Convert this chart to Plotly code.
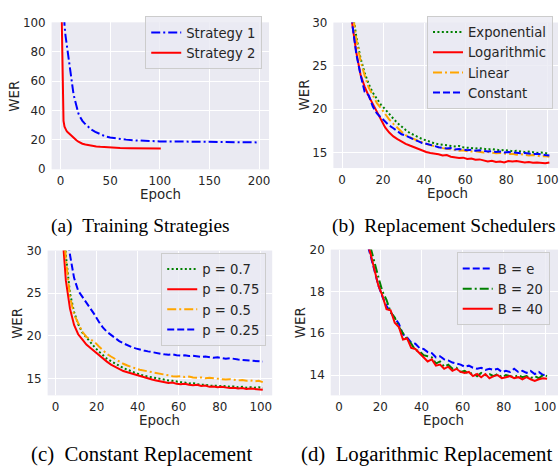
import plotly.graph_objects as go

W, H = 559, 470

# ---------------- (a) Training Strategies ----------------
a_ep_s1 = [1, 2, 3, 4, 5, 6, 7, 8, 9, 10, 11, 12, 13, 14, 15, 16, 17, 18, 19, 20,
           22, 24, 26, 28, 31, 35, 40, 45, 50, 55, 60, 66, 75, 86, 100, 120, 140, 160, 180, 200]
a_wer_s1 = [150, 128, 108, 98, 91, 86, 80, 74.5, 69, 63.5, 58.5, 55, 51.5, 48.5, 45.5, 42.5, 39.8, 38, 36.5, 35.2,
            33, 31.4, 30, 28.8, 27, 25.5, 23.8, 22.4, 21.6, 21, 20.6, 20.2, 19.7, 19.2, 19.0, 18.9, 18.8, 18.7, 18.5, 18.3]
a_ep_s2 = [1, 2, 3, 4, 5, 6, 7, 8, 9, 10, 12, 14, 16, 18, 20, 22, 25, 28, 32, 36, 40, 45, 50, 55, 60, 70, 80, 90, 101]
a_wer_s2 = [110, 50, 33, 29, 27.2, 26.2, 25.4, 24.7, 24.1, 23.5, 22.3, 21, 19.8, 18.8, 18.0, 17.4, 16.9, 16.4, 15.9,
            15.55, 15.3, 15.0, 14.75, 14.6, 14.5, 14.4, 14.3, 14.2, 14.1]

# epochs for the 100-epoch runs (b), (c), (d)
ep = list(range(1, 102, 2))

# ---------------- (b) Replacement Schedulers ----------------
b_exponential = [52, 40, 31.5, 28.3, 25.9, 24.2, 22.9, 21.9, 21.2, 20.5, 20.0, 19.4, 18.9, 18.4, 17.95, 17.6, 17.25,
                 17.0, 16.75, 16.55, 16.4, 16.2, 16.05, 15.95, 15.9, 15.8, 15.75, 15.7, 15.75, 15.6, 15.55, 15.5, 15.45,
                 15.5, 15.4, 15.35, 15.4, 15.3, 15.25, 15.3, 15.2, 15.15, 15.2, 15.1, 15.05, 15.1, 15.0, 14.95, 15.0,
                 14.9, 14.85]
b_logarithmic = [48, 36, 29.8, 26.5, 24.0, 22.6, 21.5, 20.6, 19.7, 18.7, 17.9, 17.3, 16.85, 16.55, 16.25, 16.0, 15.8,
                 15.6, 15.45, 15.25, 15.05, 14.95, 14.9, 14.8, 14.65, 14.7, 14.5, 14.45, 14.35, 14.4, 14.25, 14.3, 14.15,
                 14.2, 14.05, 13.95, 14.05, 13.9, 13.95, 13.85, 14.0, 13.95, 14.0, 13.9, 13.85, 13.9, 13.8, 13.85, 13.8,
                 13.75, 13.85]
b_linear = [52, 40, 31.5, 28.0, 25.6, 23.9, 22.5, 21.6, 20.7, 20.1, 19.4, 18.8, 18.3, 17.8, 17.4, 17.0, 16.75, 16.55,
            16.35, 16.15, 16.0, 15.85, 15.7, 15.6, 15.5, 15.45, 15.35, 15.3, 15.2, 15.25, 15.15, 15.1, 15.15, 15.05,
            15.0, 15.05, 14.95, 14.9, 14.95, 14.85, 14.8, 14.85, 14.75, 14.8, 14.7, 14.65, 14.7, 14.6, 14.55, 14.6, 14.5]
b_constant = [48, 36, 29.8, 26.3, 24.0, 22.0, 21.6, 20.3, 19.5, 19.0, 18.5, 18.1, 17.8, 17.4, 17.1, 16.95, 16.7, 16.5,
              16.3, 16.1, 16.0, 15.9, 15.75, 15.6, 15.55, 15.45, 15.5, 15.35, 15.4, 15.3, 15.25, 15.3, 15.2, 15.25,
              15.15, 15.1, 15.15, 15.05, 15.1, 15.0, 15.05, 15.0, 14.95, 14.9, 14.95, 14.85, 14.8, 14.85, 14.75, 14.7,
              14.65]

# ---------------- (c) Constant Replacement ----------------
c_p070 = [48, 36, 29.5, 25.0, 22.8, 21.4, 20.4, 19.8, 19.2, 18.7, 18.2, 17.75, 17.35, 17.05, 16.75, 16.5, 16.25, 16.05,
          15.85, 15.7, 15.5, 15.35, 15.25, 15.15, 15.05, 14.95, 14.9, 14.8, 14.75, 14.65, 14.6, 14.55, 14.45, 14.5,
          14.35, 14.3, 14.3, 14.2, 14.15, 14.2, 14.1, 14.15, 14.05, 14.1, 14.0, 14.05, 13.95, 14.0, 13.95, 14.0, 13.9]
c_p075 = [45, 33, 26.5, 23.2, 21.3, 20.2, 19.6, 19.0, 18.6, 18.2, 17.7, 17.3, 17.0, 16.65, 16.4, 16.1, 15.9, 15.75,
          15.6, 15.45, 15.3, 15.15, 15.0, 14.9, 14.8, 14.7, 14.6, 14.5, 14.55, 14.4, 14.35, 14.4, 14.3, 14.25, 14.3,
          14.15, 14.2, 14.05, 14.1, 14.0, 14.05, 13.95, 13.9, 13.95, 13.85, 13.9, 13.8, 13.85, 13.8, 13.75, 13.7]
c_p050 = [48, 36, 29.0, 24.6, 22.5, 21.4, 20.5, 19.9, 19.6, 19.3, 18.8, 18.3, 17.9, 17.6, 17.3, 17.0, 16.75, 16.55,
          16.35, 16.2, 16.05, 15.95, 15.85, 15.75, 15.65, 15.55, 15.5, 15.4, 15.3, 15.25, 15.3, 15.2, 15.25, 15.15,
          15.1, 15.15, 15.05, 15.1, 15.05, 15.0, 14.95, 14.9, 14.95, 14.85, 14.8, 14.85, 14.75, 14.8, 14.7, 14.75, 14.6]
c_p025 = [60, 42, 33, 29.5, 26.8, 25.3, 24.6, 24.0, 23.2, 22.5, 21.7, 21.0, 20.5, 20.1, 19.7, 19.4, 19.15, 18.9,
          18.7, 18.55, 18.4, 18.3, 18.2, 18.1, 18.0, 17.95, 17.85, 17.8, 17.85, 17.75, 17.7, 17.75, 17.65, 17.7, 17.6,
          17.55, 17.6, 17.5, 17.45, 17.5, 17.4, 17.35, 17.4, 17.3, 17.25, 17.2, 17.15, 17.1, 17.05, 17.0, 17.0]

# ---------------- (d) Logarithmic Replacement ----------------
d_be = [32, 28.5, 26, 24.2, 22.7, 21.5, 20.5, 19.8, 19.0, 18.3, 17.75, 17.3, 17.0, 16.7, 16.45, 15.95, 15.8, 15.55,
        15.5, 15.3, 15.25, 15.1, 15.05, 14.85, 14.9, 14.75, 14.7, 14.6, 14.55, 14.5, 14.4, 14.45, 14.35, 14.3, 14.35,
        14.25, 14.3, 14.25, 14.3, 14.15, 14.2, 14.15, 14.3, 14.15, 14.2, 14.1, 14.2, 14.05, 14.15, 14.0, 14.05]
d_b20 = [33, 29.5, 27, 25, 23.3, 22.0, 21.0, 20.2, 19.4, 18.7, 18.0, 17.6, 17.0, 16.75, 16.3, 16.0, 15.7, 15.5, 15.2,
         15.15, 14.95, 14.9, 14.85, 14.55, 14.65, 14.4, 14.5, 14.3, 14.35, 14.15, 14.2, 14.05, 14.1, 13.95, 14.1, 14.0,
         14.05, 13.95, 14.05, 13.9, 14.0, 13.95, 13.9, 14.0, 13.9, 13.95, 13.85, 13.95, 13.85, 14.0, 13.95]
d_b40 = [32, 28.5, 26, 24.2, 22.7, 21.5, 20.5, 19.9, 19.1, 18.3, 17.8, 17.15, 17.1, 16.5, 16.3, 15.7, 15.75, 15.3,
         15.25, 15.05, 14.9, 14.65, 14.75, 14.45, 14.5, 14.3, 14.4, 14.2, 14.3, 14.15, 14.1, 14.15, 13.95, 14.05, 13.9,
         14.05, 13.85, 13.95, 14.0, 13.85, 13.9, 13.95, 13.85, 13.9, 13.8, 13.9, 13.8, 13.72, 13.8, 13.85, 13.82]

captions = ["(a)\u2002Training Strategies", "(b)\u2002Replacement Schedulers",
            "(c)\u2002Constant Replacement", "(d)\u2002Logarithmic Replacement"]
x_title = "Epoch"
y_title = "WER"

BLUE, RED, GREEN, ORANGE = "#0000FF", "#FF0000", "#008000", "#FFA500"
DASHDOT = "9px,3px,2px,3px"
DASH = "7px,3px"
DOT = "2px,2.4px"
LW = 2

fig = go.Figure()


def add(x, y, name, color, dash, xa, ya, leg):
    fig.add_trace(go.Scatter(x=x, y=y, name=name, mode="lines",
                             line=dict(color=color, width=LW, dash=dash),
                             xaxis=xa, yaxis=ya, legend=leg))


add(a_ep_s1, a_wer_s1, "Strategy 1", BLUE, DASHDOT, "x", "y", "legend")
add(a_ep_s2, a_wer_s2, "Strategy 2", RED, "solid", "x", "y", "legend")

add(ep, b_exponential, "Exponential", GREEN, DOT, "x2", "y2", "legend2")
add(ep, b_logarithmic, "Logarithmic", RED, "solid", "x2", "y2", "legend2")
add(ep, b_linear, "Linear", ORANGE, DASHDOT, "x2", "y2", "legend2")
add(ep, b_constant, "Constant", BLUE, DASH, "x2", "y2", "legend2")

add(ep, c_p070, "p = 0.7", GREEN, DOT, "x3", "y3", "legend3")
add(ep, c_p075, "p = 0.75", RED, "solid", "x3", "y3", "legend3")
add(ep, c_p050, "p = 0.5", ORANGE, DASHDOT, "x3", "y3", "legend3")
add(ep, c_p025, "p = 0.25", BLUE, DASH, "x3", "y3", "legend3")

add(ep, d_be, "B = e", BLUE, DASH, "x4", "y4", "legend4")
add(ep, d_b20, "B = 20", GREEN, DASHDOT, "x4", "y4", "legend4")
add(ep, d_b40, "B = 40", RED, "solid", "x4", "y4", "legend4")

TICKFONT = dict(family="DejaVu Sans", size=11.9, color="#262626")
TITLEFONT = dict(family="DejaVu Sans", size=13.4, color="#262626")


def px_x(p):
    return p / W


def px_y(p):
    return 1 - p / H


def xax(dom, rng, dtick, anchor):
    return dict(domain=[px_x(dom[0]), px_x(dom[1])], range=rng, dtick=dtick, tick0=0,
                anchor=anchor, showgrid=True, gridcolor="white", gridwidth=1.3,
                zeroline=False, showline=False, ticks="", ticklabelstandoff=3,
                tickfont=TICKFONT, ticklabeloverflow="allow")


def yax(dom, rng, dtick, anchor):
    return dict(domain=[px_y(dom[1]), px_y(dom[0])], range=rng, dtick=dtick, tick0=0,
                anchor=anchor, showgrid=True, gridcolor="white", gridwidth=1.3,
                zeroline=False, showline=False, ticks="", ticklabelstandoff=5,
                tickfont=TICKFONT, ticklabeloverflow="allow")


LEGFONT = dict(family="DejaVu Sans", size=13.2, color="#262626")


def leg(xr, yt):
    return dict(x=px_x(xr), y=px_y(yt), xanchor="right", yanchor="top",
                bgcolor="rgba(234,234,242,0.8)", bordercolor="#CCCCCC", borderwidth=1,
                font=LEGFONT, tracegroupgap=0)


fig.update_layout(
    width=W, height=H, margin=dict(l=0, r=0, t=0, b=0),
    paper_bgcolor="white", plot_bgcolor="#EAEAF2",
    xaxis=xax((51.7, 269.5), [-9, 210], 50, "y"),
    yaxis=yax((15.8, 167.3), [0, 100], 20, "x"),
    xaxis2=xax((334, 559), [-4.2, 105.2], 20, "y2"),
    yaxis2=yax((16, 166), [13.2, 30], 5, "x2"),
    xaxis3=xax((47.7, 272.7), [-3.9, 105.6], 20, "y3"),
    yaxis3=yax((251, 400.3), [13.05, 30], 5, "x3"),
    xaxis4=xax((331.3, 559), [-4.1, 106.3], 20, "y4"),
    yaxis4=yax((250, 400.3), [13.03, 20], 2, "x4"),
    legend=leg(262.7, 9.7),
    legend2=leg(554, 9.3),
    legend3=leg(266.7, 253.5),
    legend4=leg(550.7, 253),
    showlegend=True,
)

# axis titles
for (cx, cy) in [(160.6, 193), (448, 192), (160.2, 426.5), (444.3, 426.2)]:
    fig.add_annotation(text=x_title, x=px_x(cx), y=px_y(cy), xref="paper", yref="paper",
                       xanchor="center", yanchor="middle", showarrow=False, font=TITLEFONT)
for (cx, cy) in [(15, 91.5), (304.7, 91), (18, 325.6), (301.3, 325.2)]:
    fig.add_annotation(text=y_title, x=px_x(cx), y=px_y(cy), xref="paper", yref="paper",
                       xanchor="center", yanchor="middle", showarrow=False, textangle=-90,
                       font=TITLEFONT)

cap_pos = [(141, 226, 19.4), (444, 226, 19.4), (141.7, 460.5, 20.8), (427.5, 460.5, 20.8)]
for text, (cx, cy, fs) in zip(captions, cap_pos):
    fig.add_annotation(text=text, x=px_x(cx), y=px_y(cy), xref="paper", yref="paper",
                       xanchor="center", yanchor="middle", showarrow=False,
                       font=dict(family="Liberation Serif", size=fs, color="black"))

fig.write_html("out.html", config={"displayModeBar": False},
               post_script="document.body.style.margin='0';document.body.style.overflow='hidden';")
